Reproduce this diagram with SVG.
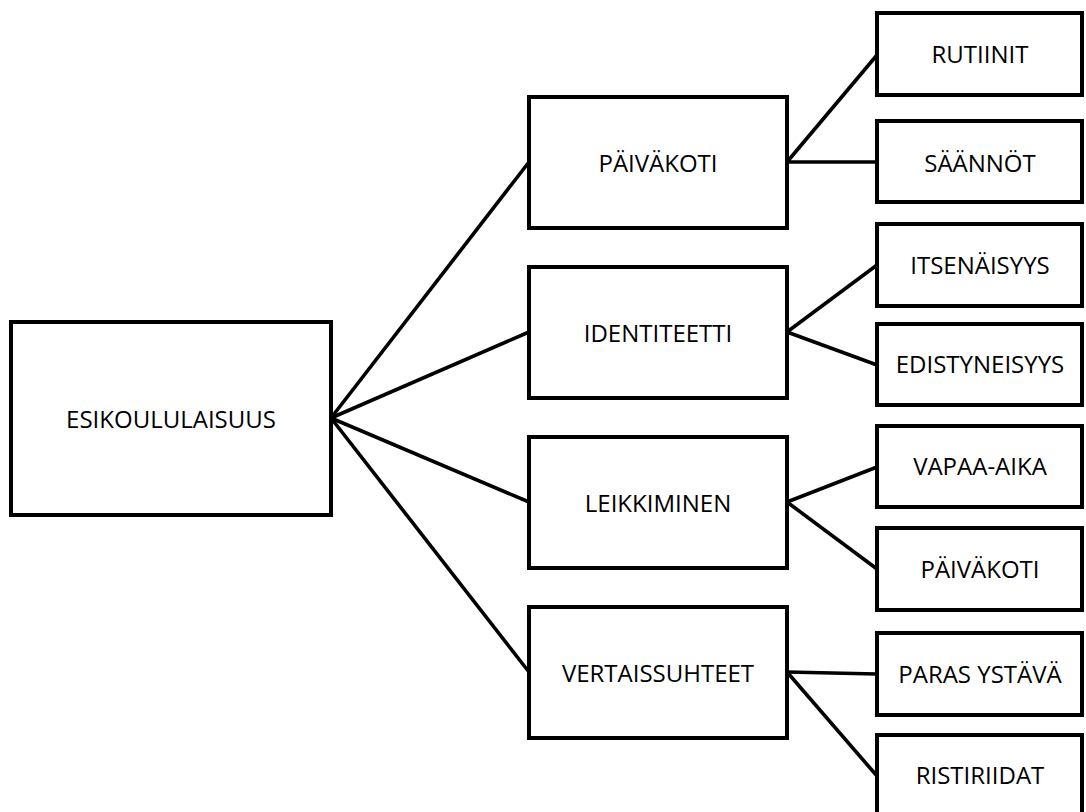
<svg xmlns="http://www.w3.org/2000/svg" width="1086" height="812" viewBox="0 0 1086 812">
<style>
.box{fill:#fff;stroke:#000;stroke-width:4}
.lbl{font-family:"Open Sans","Liberation Sans",sans-serif;font-size:24px;fill:#000;text-anchor:middle}
.con{stroke:#000;stroke-width:3.6;fill:none}
</style>
<rect width="1086" height="812" fill="#fff"/>
<g id="connectors">
<line class="con" x1="331" y1="418" x2="529" y2="162"/>
<line class="con" x1="331" y1="418" x2="529" y2="332"/>
<line class="con" x1="331" y1="418" x2="529" y2="502"/>
<line class="con" x1="331" y1="418" x2="529" y2="672"/>
<line class="con" x1="787" y1="162" x2="877" y2="55"/>
<line class="con" x1="787" y1="162" x2="877" y2="162"/>
<line class="con" x1="787" y1="332" x2="877" y2="265"/>
<line class="con" x1="787" y1="332" x2="877" y2="365"/>
<line class="con" x1="787" y1="502" x2="877" y2="467"/>
<line class="con" x1="787" y1="502" x2="877" y2="569"/>
<line class="con" x1="787" y1="672" x2="877" y2="674"/>
<line class="con" x1="787" y1="672" x2="877" y2="776"/>
</g>
<g id="n-root"><rect class="box" x="11" y="322" width="320" height="193"/><text class="lbl" x="171" y="428">ESIKOULULAISUUS</text></g>
<g id="n-paivakoti"><rect class="box" x="529" y="97" width="258" height="131"/><text class="lbl" x="658" y="172">PÄIVÄKOTI</text></g>
<g id="n-identiteetti"><rect class="box" x="529" y="267" width="258" height="131"/><text class="lbl" x="658" y="342">IDENTITEETTI</text></g>
<g id="n-leikkiminen"><rect class="box" x="529" y="437" width="258" height="131"/><text class="lbl" x="658" y="512">LEIKKIMINEN</text></g>
<g id="n-vertaissuhteet"><rect class="box" x="529" y="607" width="258" height="131"/><text class="lbl" x="658" y="682">VERTAISSUHTEET</text></g>
<g id="n-rutiinit"><rect class="box" x="877" y="13" width="205" height="82"/><text class="lbl" x="980" y="63">RUTIINIT</text></g>
<g id="n-saannot"><rect class="box" x="877" y="121" width="205" height="81"/><text class="lbl" x="980" y="172">SÄÄNNÖT</text></g>
<g id="n-itsenaisyys"><rect class="box" x="877" y="224" width="205" height="82"/><text class="lbl" x="980" y="274">ITSENÄISYYS</text></g>
<g id="n-edistyneisyys"><rect class="box" x="877" y="324" width="205" height="81"/><text class="lbl" x="980" y="373">EDISTYNEISYYS</text></g>
<g id="n-vapaa-aika"><rect class="box" x="877" y="426" width="205" height="81"/><text class="lbl" x="980" y="475">VAPAA-AIKA</text></g>
<g id="n-paivakoti2"><rect class="box" x="877" y="528" width="205" height="82"/><text class="lbl" x="980" y="578">PÄIVÄKOTI</text></g>
<g id="n-paras"><rect class="box" x="877" y="633" width="205" height="82"/><text class="lbl" x="980" y="683">PARAS YSTÄVÄ</text></g>
<g id="n-ristiriidat"><rect class="box" x="877" y="735" width="205" height="82"/><text class="lbl" x="980" y="784">RISTIRIIDAT</text></g>
</svg>
